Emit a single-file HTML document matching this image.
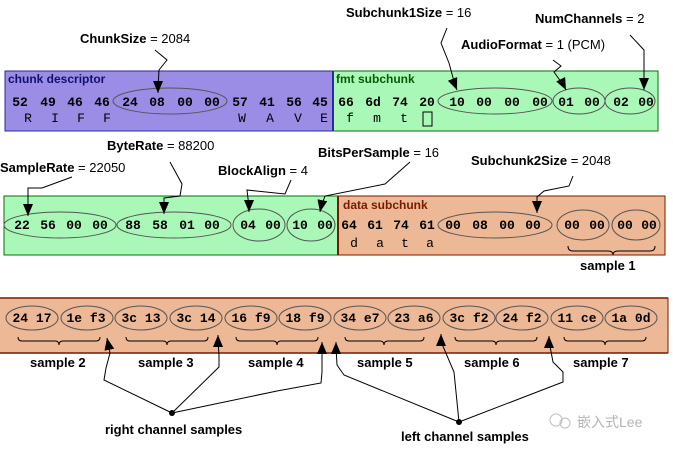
<!DOCTYPE html>
<html><head><meta charset="utf-8"><style>
html,body{margin:0;padding:0;background:#fff;width:673px;height:449px;overflow:hidden}
.h{font-family:"Liberation Mono",monospace;font-weight:bold;font-size:13px;fill:#000}
.l{font-family:"Liberation Mono",monospace;font-size:13px;fill:#000}
.t{font-family:"Liberation Sans",sans-serif;font-size:13px;font-weight:bold;fill:#000}
.t tspan{font-weight:normal}
.e{fill:none;stroke:#555;stroke-width:1}
.w{fill:none;stroke:#000;stroke-width:1}
</style></head><body>
<svg width="673" height="449" viewBox="0 0 673 449" xmlns="http://www.w3.org/2000/svg">
<defs><marker id="a" markerWidth="12" markerHeight="10" refX="12" refY="5" orient="auto" markerUnits="userSpaceOnUse" viewBox="0 0 12 10"><path d="M0,0 L12,5 L0,10 z" fill="#000"/></marker></defs>

<!-- Row 1 -->
<rect x="5" y="71" width="328" height="60" fill="#9b8ce6" stroke="#2a2a9a"/>
<rect x="333" y="71" width="325" height="60" fill="#aaf8b8" stroke="#0a6e0a"/>
<line x1="333" y1="71" x2="333" y2="131" stroke="#2a2a9a" stroke-width="2"/>
<text x="8" y="83" style="font-family:'Liberation Sans',sans-serif;font-weight:bold;font-size:12px;fill:#101070">chunk descriptor</text>
<text x="336" y="83" style="font-family:'Liberation Sans',sans-serif;font-weight:bold;font-size:12px;fill:#0a5a0a">fmt subchunk</text>
<g class="h" text-anchor="middle">
<text x="20" y="106">52</text><text x="48" y="106">49</text><text x="75" y="106">46</text><text x="102" y="106">46</text>
<text x="130" y="106">24</text><text x="157" y="106">08</text><text x="185" y="106">00</text><text x="212" y="106">00</text>
<text x="240" y="106">57</text><text x="267" y="106">41</text><text x="294" y="106">56</text><text x="320" y="106">45</text>
<text x="346" y="106">66</text><text x="373" y="106">6d</text><text x="400" y="106">74</text><text x="427" y="106">20</text>
<text x="457" y="106">10</text><text x="484" y="106">00</text><text x="512" y="106">00</text><text x="540" y="106">00</text>
<text x="566" y="106">01</text><text x="592" y="106">00</text><text x="621" y="106">02</text><text x="646" y="106">00</text>
</g>
<g class="l" text-anchor="middle">
<text x="28" y="122">R</text><text x="55" y="122">I</text><text x="81" y="122">F</text><text x="107" y="122">F</text>
<text x="242" y="122">W</text><text x="270" y="122">A</text><text x="298" y="122">V</text><text x="324" y="122">E</text>
<text x="350" y="122">f</text><text x="377" y="122">m</text><text x="404" y="122">t</text>
</g>
<rect x="423" y="112" width="9" height="14" fill="none" stroke="#000"/>
<ellipse class="e" cx="170" cy="101" rx="57" ry="13"/>
<ellipse class="e" cx="495" cy="101" rx="57" ry="13"/>
<ellipse class="e" cx="579" cy="101" rx="26" ry="13"/>
<ellipse class="e" cx="630" cy="101" rx="25" ry="13"/>

<!-- Row 2 -->
<rect x="4" y="196" width="334" height="59" fill="#aaf8b8" stroke="#0a6e0a"/>
<rect x="338" y="196" width="327" height="59" fill="#ecb896" stroke="#7a1a00"/>
<line x1="338" y1="196" x2="338" y2="255" stroke="#7a1a00" stroke-width="2"/>
<text x="343" y="209" style="font-family:'Liberation Sans',sans-serif;font-weight:bold;font-size:12px;fill:#7a1a00">data subchunk</text>
<g class="h" text-anchor="middle">
<text x="22" y="229">22</text><text x="48" y="229">56</text><text x="74" y="229">00</text><text x="100" y="229">00</text>
<text x="133" y="229">88</text><text x="160" y="229">58</text><text x="187" y="229">01</text><text x="212" y="229">00</text>
<text x="248" y="229">04</text><text x="273" y="229">00</text><text x="300" y="229">10</text><text x="325" y="229">00</text>
<text x="349" y="229">64</text><text x="375" y="229">61</text><text x="401" y="229">74</text><text x="427" y="229">61</text>
<text x="453" y="229">00</text><text x="480" y="229">08</text><text x="507" y="229">00</text><text x="533" y="229">00</text>
<text x="572" y="229">00</text><text x="597" y="229">00</text><text x="625" y="229">00</text><text x="649" y="229">00</text>
</g>
<g class="l" text-anchor="middle">
<text x="354" y="247">d</text><text x="380" y="247">a</text><text x="405" y="247">t</text><text x="430" y="247">a</text>
</g>
<ellipse class="e" cx="60" cy="225" rx="56" ry="13"/>
<ellipse class="e" cx="174" cy="225" rx="57" ry="13"/>
<ellipse class="e" cx="259" cy="225" rx="26" ry="16"/>
<ellipse class="e" cx="311" cy="225" rx="24" ry="16"/>
<ellipse class="e" cx="495" cy="225" rx="57" ry="13"/>
<ellipse class="e" cx="583" cy="225" rx="26" ry="15"/>
<ellipse class="e" cx="636" cy="225" rx="24" ry="15"/>
<path class="w" d="M568,246 q0,5 5,5 h35 q5,0 5,4 q0,-4 5,-4 h32 q5,0 5,-5"/>
<text class="t" x="580" y="270">sample 1</text>

<!-- Row 3 -->
<rect x="-1" y="298" width="669" height="55" fill="#ecb896" stroke="#7a1a00"/>
<line x1="0" y1="298" x2="668" y2="298" stroke="#7a1a00" stroke-width="1.5"/>
<line x1="0" y1="353" x2="668" y2="353" stroke="#7a1a00" stroke-width="1.5"/>
<g class="h" text-anchor="middle">
<text x="32" y="322">24 17</text><text x="86" y="322">1e f3</text><text x="141" y="322">3c 13</text><text x="196" y="322">3c 14</text>
<text x="251" y="322">16 f9</text><text x="305" y="322">18 f9</text><text x="360" y="322">34 e7</text><text x="414" y="322">23 a6</text>
<text x="469" y="322">3c f2</text><text x="522" y="322">24 f2</text><text x="577" y="322">11 ce</text><text x="631" y="322">1a 0d</text>
</g>
<g class="e">
<ellipse cx="32" cy="318" rx="26" ry="12"/><ellipse cx="87" cy="318" rx="26" ry="12"/>
<ellipse cx="141" cy="318" rx="26" ry="12"/><ellipse cx="196" cy="318" rx="26" ry="12"/>
<ellipse cx="251" cy="318" rx="26" ry="12"/><ellipse cx="305" cy="318" rx="26" ry="12"/>
<ellipse cx="360" cy="318" rx="26" ry="12"/><ellipse cx="414" cy="318" rx="26" ry="12"/>
<ellipse cx="469" cy="318" rx="26" ry="12"/><ellipse cx="522" cy="318" rx="26" ry="12"/>
<ellipse cx="577" cy="318" rx="26" ry="12"/><ellipse cx="631" cy="318" rx="26" ry="12"/>
</g>
<g class="w">
<path d="M18,337 q0,4 4,4 h33 q4,0 4,4 q0,-4 4,-4 h33 q4,0 4,-4"/>
<path d="M126,337 q0,4 4,4 h33 q4,0 4,4 q0,-4 4,-4 h33 q4,0 4,-4"/>
<path d="M236,337 q0,4 4,4 h33 q4,0 4,4 q0,-4 4,-4 h33 q4,0 4,-4"/>
<path d="M345,337 q0,4 4,4 h31 q4,0 4,4 q0,-4 4,-4 h32 q4,0 4,-4"/>
<path d="M455,337 q0,4 4,4 h33 q4,0 4,4 q0,-4 4,-4 h33 q4,0 4,-4"/>
<path d="M564,337 q0,4 4,4 h33 q4,0 4,4 q0,-4 4,-4 h33 q4,0 4,-4"/>
</g>
<g class="t">
<text x="30" y="367">sample 2</text><text x="138" y="367">sample 3</text><text x="248" y="367">sample 4</text>
<text x="357" y="367">sample 5</text><text x="464" y="367">sample 6</text><text x="573" y="367">sample 7</text>
</g>

<!-- Top labels -->
<g class="t">
<text x="80" y="43">ChunkSize <tspan>= 2084</tspan></text>
<text x="346" y="17">Subchunk1Size <tspan>= 16</tspan></text>
<text x="535" y="23">NumChannels <tspan>= 2</tspan></text>
<text x="461" y="49">AudioFormat <tspan>= 1 (PCM)</tspan></text>
<text x="107" y="150">ByteRate <tspan>= 88200</tspan></text>
<text x="0" y="172">SampleRate <tspan>= 22050</tspan></text>
<text x="218" y="175">BlockAlign <tspan>= 4</tspan></text>
<text x="318" y="157">BitsPerSample <tspan>= 16</tspan></text>
<text x="471" y="165">Subchunk2Size <tspan>= 2048</tspan></text>
</g>
<g class="w">
<path d="M155,50 l12,10 l-8,10 l-1,18 l0,5" marker-end="url(#a)"/>
<path d="M447,28 l-6,15 l8,20 l6,22 l2,5" marker-end="url(#a)"/>
<path d="M553,60 l8,6 l-7,6 l10,14 l2,4" marker-end="url(#a)"/>
<path d="M630,35 l14,15 l0,35 l0,5" marker-end="url(#a)"/>
<path d="M72,177 l-30,11 l-14,0 l0,23 l0,5" marker-end="url(#a)"/>
<path d="M170,162 l12,22 l-2,12 l-16,2 l0,11 l0,5" marker-end="url(#a)"/>
<path d="M291,180 l-6,14 l-38,-4 l2,17 l0,5" marker-end="url(#a)"/>
<path d="M410,162 l-25,22 l-60,12 l-4,11 l-1,5" marker-end="url(#a)"/>
<path d="M573,176 l-4,10 l-25,5 l-7,6 l0,11 l0,5" marker-end="url(#a)"/>
</g>

<!-- bottom channel arrows -->
<g class="w">
<path d="M172,413 l-68,-33 l2,-12 l4,-15 l-2,-10 l-1,-5" marker-end="url(#a)"/>
<path d="M172,413 l47,-46 l0,-12 l-1,-15 l0,-5" marker-end="url(#a)"/>
<path d="M172,413 l105,-22 l44,-8 l1,-11 l0,-25 l0,-5" marker-end="url(#a)"/>
<path d="M459,422 l-115,-47 l-7,-10 l-1,-18 l0,-5" marker-end="url(#a)"/>
<path d="M459,422 l-5,-50 l-12,-28 l-1,-5 l0,-5" marker-end="url(#a)"/>
<path d="M459,422 l104,-40 l0,-10 l-10,-10 l-4,-21 l0,-5" marker-end="url(#a)"/>
</g>
<circle cx="172" cy="413" r="3" fill="#000"/>
<circle cx="459" cy="422" r="3" fill="#000"/>
<text class="t" x="105" y="434">right channel samples</text>
<text class="t" x="401" y="441">left channel samples</text>
<g opacity="0.55">
<circle cx="556" cy="420" r="6" fill="none" stroke="#888"/>
<circle cx="565" cy="423" r="5" fill="none" stroke="#888"/>
<text x="577" y="427" style="font-family:'Liberation Sans','Noto Sans CJK SC',sans-serif;font-size:14px;fill:#777">嵌入式Lee</text>
</g>
</svg>
</body></html>
